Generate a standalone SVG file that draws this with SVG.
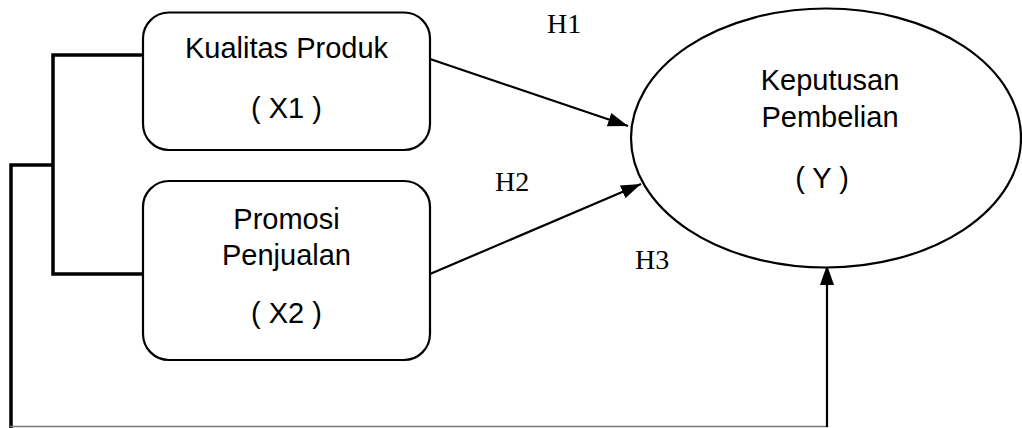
<svg xmlns="http://www.w3.org/2000/svg" width="1022" height="428" viewBox="0 0 1022 428">
<style>
.box{fill:#fff;stroke:#000;stroke-width:2.2}
.t{font-family:"Liberation Sans",Arial,sans-serif;font-size:29px;fill:#000;text-anchor:middle}
.h{font-family:"Liberation Serif","DejaVu Serif",serif;font-size:28px;fill:#000}
.c{fill:none;stroke:#000;stroke-width:2.2}
.b{fill:none;stroke:#000;stroke-width:3.5}
</style>
<defs>
<marker id="ah" markerUnits="userSpaceOnUse" markerWidth="22" markerHeight="18" viewBox="0 0 22 18" refX="20" refY="9" orient="auto">
<path d="M0,2 L20,9 L0,16 Z" fill="#000"/>
</marker>
</defs>
<g id="connectors">
<polyline class="b" points="143,55 53,55 53,274 143,274"/>
<polyline class="b" points="53,165 11,165 11,428"/>
<line x1="10" y1="426.5" x2="828" y2="426.5" stroke="#777" stroke-width="1.5"/>
<line class="c" x1="430" y1="59" x2="628" y2="126" marker-end="url(#ah)"/>
<line class="c" x1="430" y1="274" x2="641" y2="184" marker-end="url(#ah)"/>
<line class="c" x1="827" y1="427" x2="827" y2="265" marker-end="url(#ah)"/>
</g>
<g id="x1">
<rect class="box" x="143" y="12.5" width="287" height="137.5" rx="26"/>
<text class="t" x="286.5" y="58">Kualitas Produk</text>
<text class="t" x="286.5" y="118">( X1 )</text>
</g>
<g id="x2">
<rect class="box" x="143" y="181" width="287" height="179" rx="26"/>
<text class="t" x="286.5" y="229">Promosi</text>
<text class="t" x="286.5" y="265">Penjualan</text>
<text class="t" x="286.5" y="323">( X2 )</text>
</g>
<g id="y">
<ellipse class="box" cx="826" cy="138" rx="195" ry="129.5"/>
<text class="t" x="830" y="90">Keputusan</text>
<text class="t" x="830" y="127">Pembelian</text>
<text class="t" x="822" y="188">( Y )</text>
</g>
<g id="labels">
<text class="h" x="547" y="33">H1</text>
<text class="h" x="495" y="191">H2</text>
<text class="h" x="635" y="269">H3</text>
</g>
</svg>
